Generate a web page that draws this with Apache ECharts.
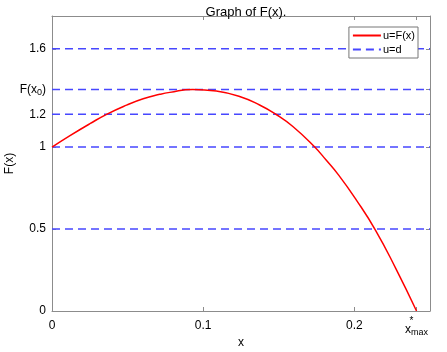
<!DOCTYPE html>
<html><head><meta charset="utf-8">
<script src="https://cdn.jsdelivr.net/npm/echarts@6/dist/echarts.min.js"></script>
<style>html,body{margin:0;padding:0;background:#fff}#c{width:447px;height:352px}</style>
</head><body><div id="c"></div>
<script>
const curveX = [0, 0.0119, 0.0251, 0.0361, 0.0493, 0.0603, 0.0713, 0.0779, 0.0931, 0.1087, 0.1241, 0.1373, 0.1483, 0.1593, 0.1736, 0.1813, 0.1896, 0.2011, 0.2139, 0.2275, 0.2411];
const curveY = [1.0, 1.070, 1.143, 1.200, 1.256, 1.295, 1.322, 1.334, 1.352, 1.342, 1.309, 1.257, 1.199, 1.126, 1.002, 0.921, 0.829, 0.680, 0.494, 0.257, 0];
const levels = [0.5, 1, 1.2, 1.352, 1.6];
const xTicks = [0, 0.1, 0.2, 0.2411];
const yTicks = [0, 0.5, 1, 1.2, 1.352, 1.6];
const xMaxVal = 0.2411, fx0 = 1.352;
const xMin = 0, xMax = 0.25, yMin = 0, yMax = 1.8;

const F = 'Liberation Sans, Arial, sans-serif';
const curveData = curveX.map((x, i) => [x, curveY[i]]);
const levelData = [];
levels.forEach((v, i) => {
  if (i > 0) levelData.push([xMin, '-']);
  levelData.push([xMin, v]);
  levelData.push([xMax, v]);
});
const axisCol = '#8c8c8c';
const chart = echarts.init(document.getElementById('c'), null, {renderer: 'canvas'});
chart.setOption({
  animation: false,
  title: {text: 'Graph of F(x).', left: 241, textAlign: 'center', top: 1,
    textStyle: {fontFamily: F, fontSize: 13, fontWeight: 'normal', color: '#000'}},
  grid: {left: 52, right: 17, top: 16, bottom: 41, show: false, containLabel: false, outerBoundsMode: 'none'},
  legend: {
    right: 29, top: 27, orient: 'vertical', itemWidth: 28, itemHeight: 10, itemGap: 3,
    padding: [3, 3, 3, 3], borderColor: '#777', borderWidth: 1, backgroundColor: '#fff',
    itemStyle: {opacity: 0, borderWidth: 0},
    textStyle: {fontFamily: F, fontSize: 11, color: '#000', padding: [0, 0, 0, -3]},
    data: ['u=F(x)', 'u=d']
  },
  xAxis: [{
    type: 'value', min: xMin, max: xMax, position: 'bottom',
    name: 'x', nameLocation: 'middle', nameGap: 26, nameMoveOverlap: false,
    nameTextStyle: {fontFamily: F, fontSize: 12, color: '#000'},
    axisLine: {show: true, onZero: false, lineStyle: {color: axisCol, width: 1}},
    axisTick: {show: true, inside: true, length: 4, customValues: xTicks, lineStyle: {color: axisCol}},
    splitLine: {show: false},
    axisLabel: {customValues: xTicks, margin: 8, fontFamily: F, fontSize: 12, color: '#000',
      formatter: v => Math.abs(v - xMaxVal) < 1e-6 ? '{st|*}\n{a|x}{sub|max}' : '{a|' + (v === 0 ? '0' : String(+v.toFixed(2))) + '}',
      rich: {a: {fontFamily: F, fontSize: 12, color: '#000', lineHeight: 13},
             st: {fontFamily: F, fontSize: 10, color: '#000', padding: [0, 10, 0, 0], lineHeight: 4},
             sub: {fontFamily: F, fontSize: 9, color: '#000', padding: [5, 0, 0, 0]}}}
  }, {
    type: 'value', min: xMin, max: xMax, position: 'top',
    axisLine: {show: true, onZero: false, lineStyle: {color: axisCol, width: 1}},
    axisTick: {show: true, inside: true, length: 4, customValues: xTicks, lineStyle: {color: axisCol}},
    axisLabel: {show: false}, splitLine: {show: false}
  }],
  yAxis: [{
    type: 'value', min: yMin, max: yMax, position: 'left',
    name: 'F(x)', nameLocation: 'middle', nameGap: 36, nameRotate: 90, nameMoveOverlap: false,
    nameTextStyle: {fontFamily: F, fontSize: 12, color: '#000'},
    axisLine: {show: true, onZero: false, lineStyle: {color: axisCol, width: 1}},
    axisTick: {show: true, inside: true, length: 4, customValues: yTicks, lineStyle: {color: axisCol}},
    splitLine: {show: false},
    axisLabel: {customValues: yTicks, margin: 6, fontFamily: F, fontSize: 12, color: '#000',
      formatter: v => Math.abs(v - fx0) < 1e-6 ? '{a|F(x}{sub|0}{a|)}' : '{a|' + String(+v.toFixed(2)) + '}',
      rich: {a: {fontFamily: F, fontSize: 12, color: '#000'},
             sub: {fontFamily: F, fontSize: 9, color: '#000', padding: [6, 0, 0, 0]}}}
  }, {
    type: 'value', min: yMin, max: yMax, position: 'right',
    axisLine: {show: true, onZero: false, lineStyle: {color: axisCol, width: 1}},
    axisTick: {show: true, inside: true, length: 4, customValues: yTicks, lineStyle: {color: axisCol}},
    axisLabel: {show: false}, splitLine: {show: false}
  }],
  series: [{
    name: 'u=F(x)', type: 'line', data: curveData, smooth: 0.5, symbol: 'none',
    lineStyle: {color: '#ff0000', width: 1.5}, itemStyle: {color: '#ff0000'}, z: 3
  }, {
    name: 'u=d', type: 'line', data: levelData, symbol: 'none', connectNulls: false,
    lineStyle: {color: '#4747ff', width: 1.5, type: [8, 5]}, itemStyle: {color: '#4747ff'}, z: 2
  }]
});
</script></body></html>
